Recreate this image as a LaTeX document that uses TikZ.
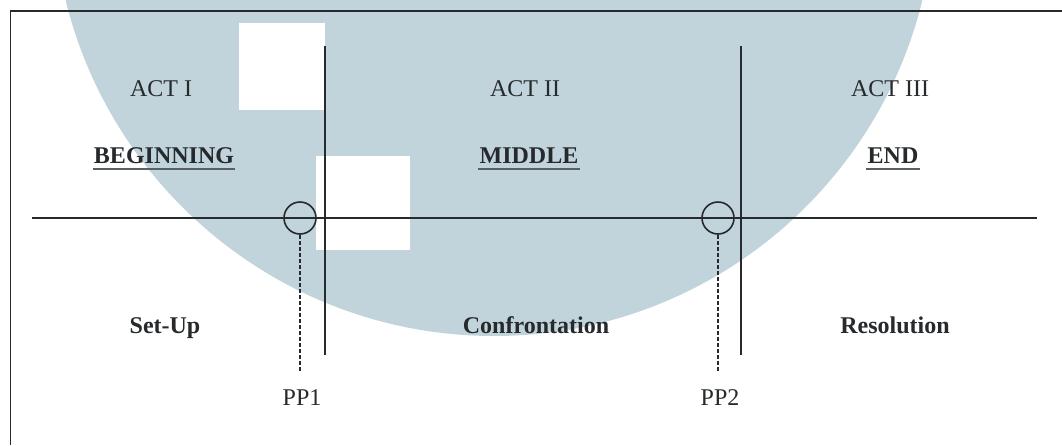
\documentclass[tikz,border=0pt]{standalone}
\usepackage{fontspec}
\setmainfont{Liberation Serif}
\definecolor{wm}{HTML}{C1D4DB}
\definecolor{ink}{HTML}{262A2C}
\definecolor{ulc}{HTML}{5A5F62}
\begin{document}
\begin{tikzpicture}[x=1pt,y=-1pt,
  txt/.style={inner sep=0pt,anchor=base,text=ink,font=\fontsize{24pt}{28pt}\selectfont},
  btxt/.style={txt,font=\fontsize{24pt}{28pt}\selectfont\bfseries},
  ppl/.style={txt,font=\fontsize{24pt}{28pt}\selectfont},
  frame/.style={draw=ink,line width=1.5pt},
  rule/.style={draw=ink,line width=1.5pt},
  uline/.style={draw=ulc,line width=2pt},
  ppcirc/.style={draw=ink,line width=1.6pt,circle,minimum size=32pt,inner sep=0pt},
  ppdash/.style={draw=ink,line width=2.2pt,dash pattern=on 4pt off 2pt}]
\useasboundingbox (0,0) rectangle (1062,445);
\fill[white] (0,0) rectangle (1062,445);
% watermark disc
\begin{scope}
\clip (0,0) rectangle (1062,445);
\fill[wm] (494,-105) circle[radius=441];
\end{scope}
\fill[white] (239,23) rectangle (325,110);
\fill[white] (316,156) rectangle (410,250);
% frame
\coordinate (ftl) at (10.5,11);
\coordinate (ftr) at (1062,11);
\coordinate (fbl) at (10.5,445);
\draw[frame] (ftr) -- (ftl) -- (fbl);
% axis lines
\coordinate (hl) at (32,218);
\coordinate (hr) at (1037,218);
\draw[rule] (hl) -- (hr);
\coordinate (v1t) at (325,46);
\coordinate (v1b) at (325,355);
\coordinate (v2t) at (741,46);
\coordinate (v2b) at (741,355);
\draw[rule] (v1t) -- (v1b);
\draw[rule] (v2t) -- (v2b);
% plot points
\node[ppcirc] (c1) at (300,218) {};
\node[ppcirc] (c2) at (718,218) {};
\coordinate (d1) at (300,372);
\coordinate (d2) at (718,372);
\draw[ppdash] (c1.south) -- (d1);
\draw[ppdash] (c2.south) -- (d2);
\node[ppl] (pp1) at (302,405) {PP1};
\node[ppl] (pp2) at (720,405) {PP2};
% labels
\node[txt] (a1) at (161,96) {ACT I};
\node[txt] (a2) at (525,96) {ACT II};
\node[txt] (a3) at (890,96) {ACT III};
\node[btxt] (b1) at (164,163) {BEGINNING};
\node[btxt] (b2) at (529,163) {MIDDLE};
\node[btxt] (b3) at (893,163) {END};
\draw[uline] ([xshift=-1pt,yshift=-6pt]b1.base west) -- ([xshift=1pt,yshift=-6pt]b1.base east);
\draw[uline] ([xshift=-1pt,yshift=-6pt]b2.base west) -- ([xshift=1pt,yshift=-6pt]b2.base east);
\draw[uline] ([xshift=-1pt,yshift=-6pt]b3.base west) -- ([xshift=1pt,yshift=-6pt]b3.base east);
\node[btxt] (s1) at (165,333) {Set-Up};
\node[btxt] (s2) at (536,333) {Confrontation};
\node[btxt] (s3) at (895,333) {Resolution};
\end{tikzpicture}
\end{document}
